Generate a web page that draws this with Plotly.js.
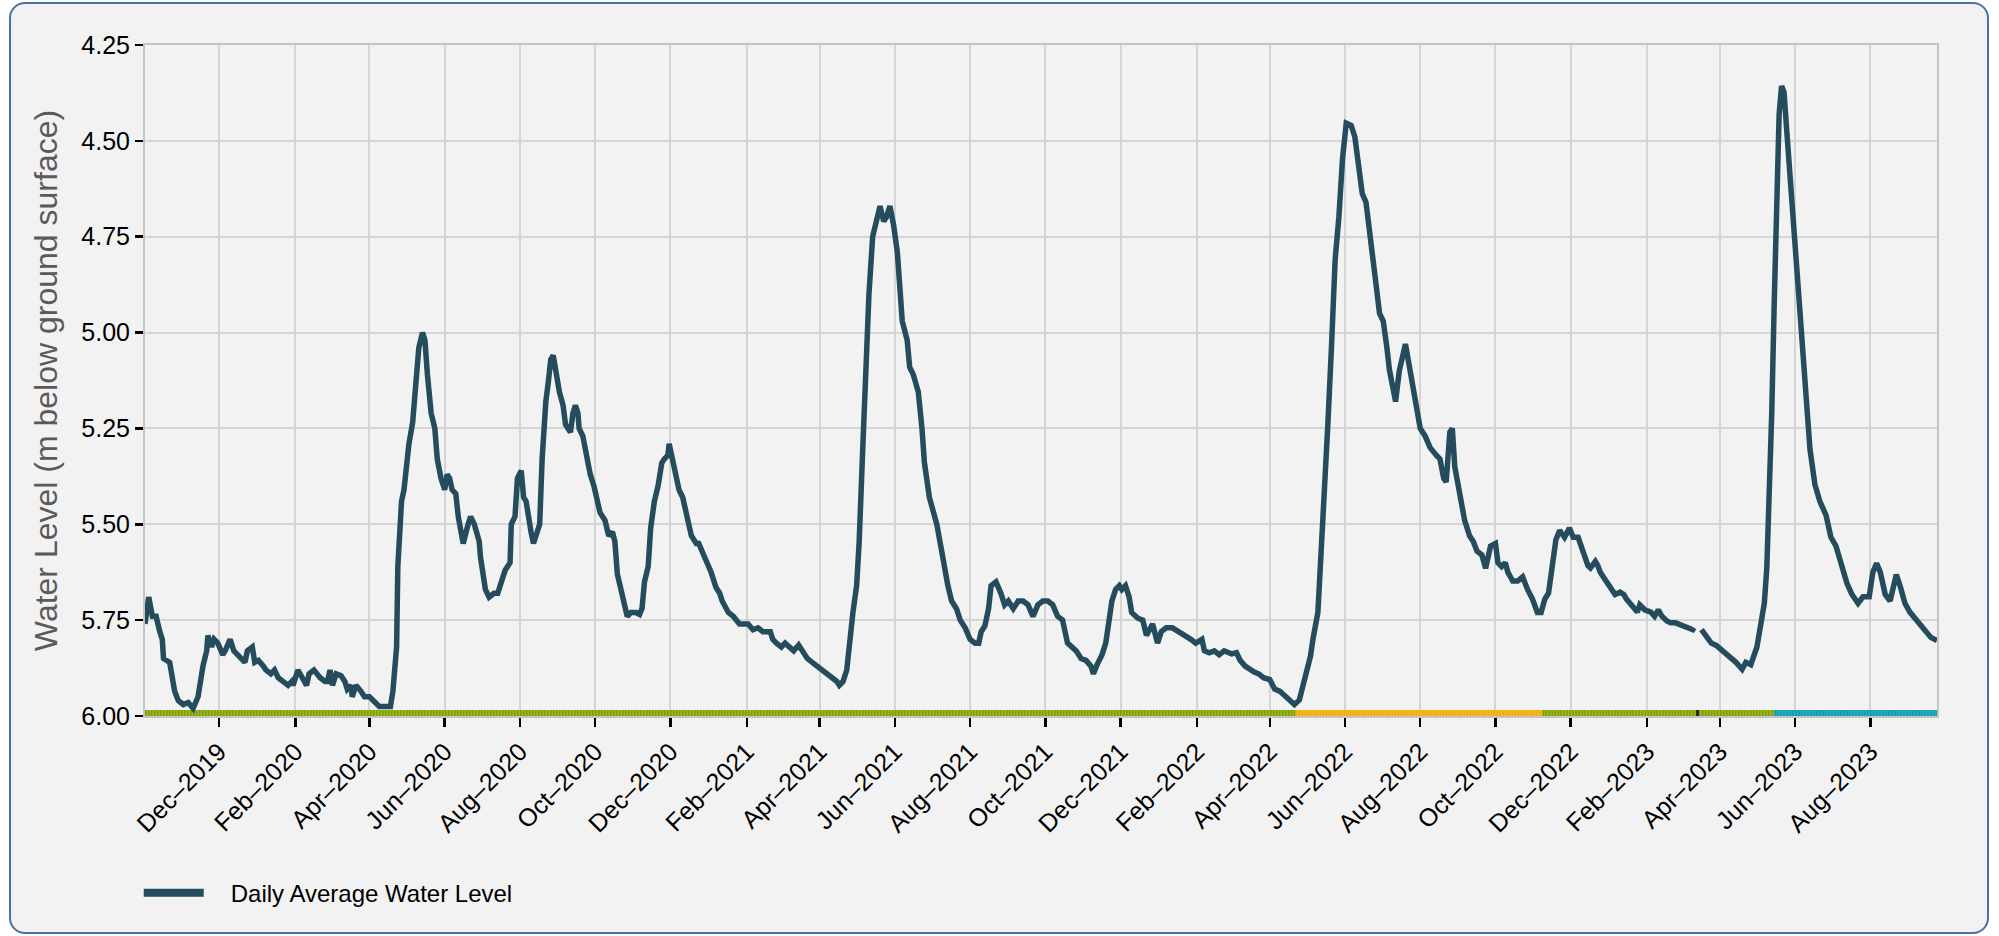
<!DOCTYPE html>
<html>
<head>
<meta charset="utf-8">
<script src="https://cdn.plot.ly/plotly-3.0.1.min.js"></script>
<style>
  html, body { margin: 0; padding: 0; background: #ffffff; }
  #panel { position: absolute; left: 9px; top: 2px; width: 1976px; height: 928px;
           border: 2px solid #4673a1; border-radius: 16px; background: #f2f2f2; }
  #chart { position: absolute; left: 0; top: 0; width: 1999px; height: 936px; }
</style>
</head>
<body>
<div id="panel"></div>
<div id="chart"></div>
<script>
// ---- Daily average water level (m below ground surface) ----
const dates = [
'2019-10-02','2019-10-05','2019-10-08','2019-10-11','2019-10-14','2019-10-16','2019-10-17','2019-10-22','2019-10-26','2019-10-29',
'2019-11-02','2019-11-06','2019-11-10','2019-11-14','2019-11-18','2019-11-21','2019-11-22','2019-11-25','2019-11-27','2019-11-30',
'2019-12-04','2019-12-06','2019-12-10','2019-12-13','2019-12-16','2019-12-22','2019-12-24','2019-12-28','2019-12-30',
'2020-01-02','2020-01-06','2020-01-08','2020-01-12','2020-01-15','2020-01-18','2020-01-22','2020-01-26','2020-01-29','2020-01-30',
'2020-02-03','2020-02-06','2020-02-10','2020-02-12','2020-02-16','2020-02-21','2020-02-25','2020-02-27','2020-02-29',
'2020-03-02','2020-03-05','2020-03-09','2020-03-12','2020-03-14','2020-03-17','2020-03-18','2020-03-21','2020-03-25','2020-03-28',
'2020-04-01','2020-04-04','2020-04-06','2020-04-09','2020-04-15','2020-04-18','2020-04-20','2020-04-23','2020-04-24','2020-04-27','2020-04-29',
'2020-05-01','2020-05-03','2020-05-06','2020-05-08','2020-05-10','2020-05-11','2020-05-14','2020-05-16','2020-05-18','2020-05-21','2020-05-24','2020-05-26','2020-05-29',
'2020-06-01','2020-06-03','2020-06-05','2020-06-07','2020-06-10','2020-06-12','2020-06-14','2020-06-16','2020-06-20','2020-06-22','2020-06-25','2020-06-29','2020-06-30',
'2020-07-02','2020-07-04','2020-07-07','2020-07-11','2020-07-14','2020-07-18','2020-07-20','2020-07-24','2020-07-25','2020-07-28','2020-07-30',
'2020-08-02','2020-08-04','2020-08-06','2020-08-09','2020-08-10','2020-08-12','2020-08-14','2020-08-17','2020-08-19','2020-08-21','2020-08-22','2020-08-24','2020-08-26','2020-08-28','2020-08-31',
'2020-09-02','2020-09-05','2020-09-07','2020-09-09','2020-09-11','2020-09-13','2020-09-15','2020-09-17','2020-09-18','2020-09-21','2020-09-24','2020-09-27','2020-09-30',
'2020-10-02','2020-10-05','2020-10-09','2020-10-12','2020-10-15','2020-10-17','2020-10-19','2020-10-22','2020-10-25','2020-10-27','2020-10-30',
'2020-11-03','2020-11-06','2020-11-08','2020-11-10','2020-11-13','2020-11-15','2020-11-18','2020-11-21','2020-11-24','2020-11-26','2020-11-29','2020-11-30',
'2020-12-03','2020-12-05','2020-12-08','2020-12-11','2020-12-13','2020-12-16','2020-12-18','2020-12-22','2020-12-24','2020-12-28','2020-12-31',
'2021-01-03','2021-01-07','2021-01-10','2021-01-12','2021-01-15','2021-01-17','2021-01-21','2021-01-26',
'2021-02-02','2021-02-06','2021-02-10','2021-02-14','2021-02-20','2021-02-22','2021-02-25',
'2021-03-01','2021-03-04','2021-03-08','2021-03-11','2021-03-15','2021-03-18','2021-03-22','2021-03-26','2021-03-30',
'2021-04-03','2021-04-07','2021-04-11','2021-04-15','2021-04-17','2021-04-20','2021-04-23','2021-04-25','2021-04-28',
'2021-05-01','2021-05-03','2021-05-06','2021-05-08','2021-05-11','2021-05-14','2021-05-17','2021-05-20','2021-05-23','2021-05-25','2021-05-28','2021-05-31',
'2021-06-03','2021-06-05','2021-06-07','2021-06-11','2021-06-13','2021-06-16','2021-06-20','2021-06-23','2021-06-25','2021-06-29',
'2021-07-05','2021-07-09','2021-07-12','2021-07-14','2021-07-17','2021-07-21','2021-07-24','2021-07-28',
'2021-08-01','2021-08-05','2021-08-08','2021-08-10','2021-08-13','2021-08-16','2021-08-18','2021-08-22','2021-08-26','2021-08-29',
'2021-09-01','2021-09-05','2021-09-09','2021-09-13','2021-09-17','2021-09-21','2021-09-25','2021-09-29',
'2021-10-03','2021-10-07','2021-10-11','2021-10-15','2021-10-19','2021-10-23','2021-10-26','2021-10-30',
'2021-11-03','2021-11-07','2021-11-09','2021-11-12','2021-11-16','2021-11-19','2021-11-21','2021-11-24','2021-11-27','2021-11-30',
'2021-12-02','2021-12-05','2021-12-08','2021-12-10','2021-12-15','2021-12-19','2021-12-22','2021-12-27','2021-12-31',
'2022-01-03','2022-01-07','2022-01-12','2022-01-17','2022-01-23','2022-01-27','2022-01-31',
'2022-02-05','2022-02-07','2022-02-11','2022-02-15','2022-02-19','2022-02-23',
'2022-03-01','2022-03-05','2022-03-08','2022-03-12','2022-03-16','2022-03-19','2022-03-23','2022-03-27',
'2022-04-01','2022-04-05','2022-04-09','2022-04-13','2022-04-17','2022-04-21','2022-04-25','2022-04-30',
'2022-05-04','2022-05-06','2022-05-10','2022-05-12','2022-05-14','2022-05-16','2022-05-18','2022-05-21','2022-05-24','2022-05-27','2022-05-30',
'2022-06-02','2022-06-06','2022-06-09','2022-06-13','2022-06-15','2022-06-18','2022-06-20','2022-06-24','2022-06-26','2022-06-29',
'2022-07-02','2022-07-05','2022-07-07','2022-07-12','2022-07-15','2022-07-20','2022-07-24','2022-07-28',
'2022-08-01','2022-08-05','2022-08-09','2022-08-14','2022-08-17','2022-08-20','2022-08-22','2022-08-25','2022-08-27','2022-08-29',
'2022-09-02','2022-09-06','2022-09-10','2022-09-13','2022-09-16','2022-09-20','2022-09-23','2022-09-27',
'2022-10-01','2022-10-03','2022-10-06','2022-10-09','2022-10-11','2022-10-15','2022-10-19','2022-10-23','2022-10-27','2022-10-31',
'2022-11-04','2022-11-07','2022-11-10','2022-11-13','2022-11-16','2022-11-19','2022-11-22','2022-11-26','2022-11-30',
'2022-12-03','2022-12-07','2022-12-10','2022-12-12','2022-12-15','2022-12-17','2022-12-21','2022-12-23','2022-12-25','2022-12-28','2022-12-31',
'2023-01-03','2023-01-06','2023-01-10','2023-01-13','2023-01-15','2023-01-18','2023-01-21','2023-01-24','2023-01-26','2023-01-30',
'2023-02-04','2023-02-07','2023-02-10','2023-02-13','2023-02-17','2023-02-20','2023-02-24','2023-02-28',
'2023-03-05','2023-03-10','2023-03-11','2023-03-14','2023-03-17','2023-03-21','2023-03-25','2023-03-29',
'2023-04-02','2023-04-06','2023-04-10','2023-04-14','2023-04-19','2023-04-22','2023-04-26','2023-04-29',
'2023-05-01','2023-05-04','2023-05-07','2023-05-09','2023-05-11','2023-05-13','2023-05-15','2023-05-17','2023-05-19','2023-05-21','2023-05-23','2023-05-25','2023-05-28','2023-05-31',
'2023-06-03','2023-06-06','2023-06-09','2023-06-13','2023-06-17','2023-06-21','2023-06-26','2023-06-30',
'2023-07-04','2023-07-09','2023-07-13','2023-07-17','2023-07-22','2023-07-26','2023-07-31',
'2023-08-03','2023-08-06','2023-08-09','2023-08-13','2023-08-17','2023-08-20','2023-08-22','2023-08-25','2023-08-29',
'2023-09-02','2023-09-08','2023-09-13','2023-09-19','2023-09-24'
];
const levels = [
5.76,5.69,5.74,5.74,5.78,5.80,5.85,5.86,5.935,5.96,
5.97,5.965,5.98,5.95,5.87,5.83,5.79,5.82,5.80,5.81,
5.84,5.83,5.80,5.83,5.84,5.86,5.83,5.82,5.86,
5.855,5.87,5.88,5.89,5.88,5.90,5.91,5.92,5.91,5.92,
5.88,5.895,5.92,5.89,5.88,5.90,5.91,5.91,5.88,
5.92,5.89,5.895,5.91,5.93,5.92,5.95,5.92,5.935,5.95,
5.95,5.96,5.965,5.975,5.975,5.975,5.935,5.82,5.61,5.44,5.41,
5.35,5.29,5.235,5.165,5.085,5.04,5.00,5.02,5.11,5.21,5.25,5.33,5.38,
5.41,5.37,5.38,5.41,5.42,5.48,5.52,5.55,5.50,5.48,5.50,5.545,5.585,
5.62,5.67,5.69,5.68,5.68,5.64,5.62,5.60,5.50,5.48,5.38,
5.36,5.43,5.44,5.51,5.52,5.55,5.53,5.50,5.33,5.20,5.18,5.13,5.07,5.06,5.12,
5.155,5.19,5.24,5.25,5.26,5.21,5.19,5.21,5.25,5.27,5.32,5.37,5.40,
5.43,5.47,5.49,5.53,5.52,5.545,5.63,5.67,5.71,5.74,5.73,
5.73,5.735,5.72,5.65,5.61,5.51,5.44,5.40,5.34,5.33,5.32,5.29,
5.33,5.355,5.41,5.43,5.46,5.50,5.53,5.55,5.55,5.58,5.60,
5.625,5.665,5.68,5.70,5.72,5.73,5.74,5.76,
5.76,5.775,5.77,5.78,5.78,5.80,5.81,
5.82,5.81,5.82,5.83,5.815,5.83,5.85,5.86,5.87,
5.88,5.89,5.90,5.91,5.92,5.91,5.88,5.81,5.73,
5.66,5.55,5.30,5.12,4.90,4.75,4.71,4.67,4.71,4.70,4.67,4.72,
4.79,4.88,4.97,5.02,5.09,5.11,5.155,5.25,5.34,5.43,
5.50,5.57,5.63,5.66,5.70,5.72,5.75,5.77,
5.80,5.81,5.81,5.78,5.765,5.72,5.66,5.65,5.68,5.71,
5.70,5.72,5.70,5.70,5.71,5.74,5.71,5.70,
5.70,5.71,5.74,5.75,5.81,5.82,5.83,5.85,
5.855,5.87,5.89,5.866,5.84,5.81,5.76,5.70,5.67,5.66,
5.67,5.66,5.69,5.73,5.745,5.75,5.79,5.76,5.81,
5.78,5.77,5.77,5.78,5.79,5.80,5.81,
5.80,5.83,5.835,5.83,5.84,5.83,
5.838,5.835,5.855,5.87,5.88,5.885,5.89,5.90,
5.905,5.93,5.935,5.947,5.958,5.97,5.958,5.89,
5.844,5.80,5.73,5.61,5.50,5.38,5.245,5.04,4.81,4.70,4.546,
4.454,4.46,4.49,4.58,4.638,4.66,4.707,4.81,4.87,4.95,
4.97,5.04,5.097,5.18,5.10,5.03,5.10,5.18,
5.25,5.27,5.30,5.32,5.33,5.38,5.39,5.26,5.25,5.35,
5.43,5.49,5.53,5.545,5.57,5.58,5.615,5.557,
5.55,5.60,5.61,5.60,5.625,5.648,5.648,5.637,5.67,5.695,
5.73,5.73,5.695,5.68,5.61,5.54,5.516,5.534,5.51,
5.534,5.534,5.56,5.585,5.608,5.614,5.597,5.608,5.625,5.64,5.654,
5.666,5.683,5.677,5.683,5.694,5.706,5.717,5.729,5.71,5.723,
5.729,5.74,5.723,5.74,5.752,5.757,5.757,5.763,
5.769,5.775,5.77,null,5.775,5.79,5.81,5.816,
5.826,5.838,5.85,5.86,5.878,5.86,5.866,5.838,
5.82,5.763,5.706,5.614,5.44,5.21,4.925,4.638,4.43,4.357,4.374,4.466,4.60,4.75,
4.90,5.04,5.166,5.304,5.396,5.44,5.476,5.534,
5.556,5.614,5.654,5.683,5.706,5.689,5.689,
5.625,5.602,5.625,5.683,5.70,5.648,5.631,5.66,5.706,
5.729,5.752,5.775,5.795,5.803
];

// ---- Data grade periods shown along the bottom of the plot ----
const gradeStarts = ['2019-10-02','2022-04-22','2022-11-08','2023-03-13','2023-03-15','2023-05-15'];
const gradeEnds   = ['2022-04-22','2022-11-08','2023-03-13','2023-03-15','2023-05-15','2023-09-24'];
const gradeCodes  = ['A','B','A','X','A','C'];

const yTickVals = [4.25, 4.50, 4.75, 5.00, 5.25, 5.50, 5.75, 6.00];
const seriesName = 'Daily Average Water Level';

// styles (kept apart from data)
const gradeStyle = {
  A: {base: '#9bbb1e', stripe: '#7e9a10'},
  B: {base: '#fbbd22', stripe: '#eea810'},
  C: {base: '#25b3ca', stripe: '#1596ae'},
  X: {base: '#2a2a2a', stripe: '#111111'}
};
const FONT = 'Liberation Sans, Arial, Helvetica, sans-serif';
const LINE_COLOR = '#244c5c';

const traces = [];
for (let i = 0; i < gradeCodes.length; i++) {
  const st = gradeStyle[gradeCodes[i]];
  const yb = yTickVals[yTickVals.length - 1];
  traces.push({x: [gradeStarts[i], gradeEnds[i]], y: [yb, yb], mode: 'lines',
    line: {color: st.base, width: 12}, showlegend: false, hoverinfo: 'skip'});
  traces.push({x: [gradeStarts[i], gradeEnds[i]], y: [yb, yb], mode: 'lines',
    line: {color: st.stripe, width: 12, dash: '1.5px,1.5px'}, showlegend: false, hoverinfo: 'skip'});
}
traces.push({
  x: dates, y: levels, mode: 'lines', name: seriesName, showlegend: false,
  line: {color: LINE_COLOR, width: 5.5}, connectgaps: false
});
// legend key only (thicker swatch, no data drawn)
traces.push({
  x: [null], y: [null], mode: 'lines', name: '\u2002\u2005\u2006' + seriesName, showlegend: true,
  line: {color: LINE_COLOR, width: 8}, hoverinfo: 'skip'
});

const layout = {
  width: 1999, height: 936,
  paper_bgcolor: 'rgba(0,0,0,0)', plot_bgcolor: '#f2f2f2',
  margin: {l: 145, r: 62, t: 45, b: 220},
  font: {family: FONT, color: '#000'},
  showlegend: true,
  legend: {orientation: 'h', x: -0.0035, xanchor: 'left', y: -0.264, yanchor: 'middle',
           font: {size: 24, family: FONT, color: '#000'}, itemwidth: 60, bgcolor: 'rgba(0,0,0,0)'},
  xaxis: {
    type: 'date', range: ['2019-10-02', '2023-09-24'], autorange: false,
    tick0: '2019-12-01', dtick: 'M2', tickformat: '%b\u2013%Y', tickangle: -45,
    tickfont: {size: 25, family: FONT, color: '#000'},
    showgrid: true, gridcolor: '#d5d5d5', gridwidth: 2,
    showline: true, linecolor: '#c4c4c4', linewidth: 2, mirror: true,
    ticks: 'outside', ticklen: 9, tickwidth: 2.5, tickcolor: '#000',
    zeroline: false
  },
  yaxis: {
    range: [6.0, 4.25], autorange: false,
    tickvals: yTickVals, tickformat: '.2f',
    tickfont: {size: 25, family: FONT, color: '#000'},
    title: {text: 'Water Level (m below ground surface)', font: {size: 32, family: FONT, color: '#5a5a5a'}, standoff: 14},
    showgrid: true, gridcolor: '#d5d5d5', gridwidth: 2,
    showline: true, linecolor: '#c4c4c4', linewidth: 2, mirror: true,
    ticks: 'outside', ticklen: 8, tickwidth: 2.5, tickcolor: '#000',
    zeroline: false
  }
};

Plotly.newPlot('chart', traces, layout, {displayModeBar: false, staticPlot: true});
</script>
</body>
</html>
